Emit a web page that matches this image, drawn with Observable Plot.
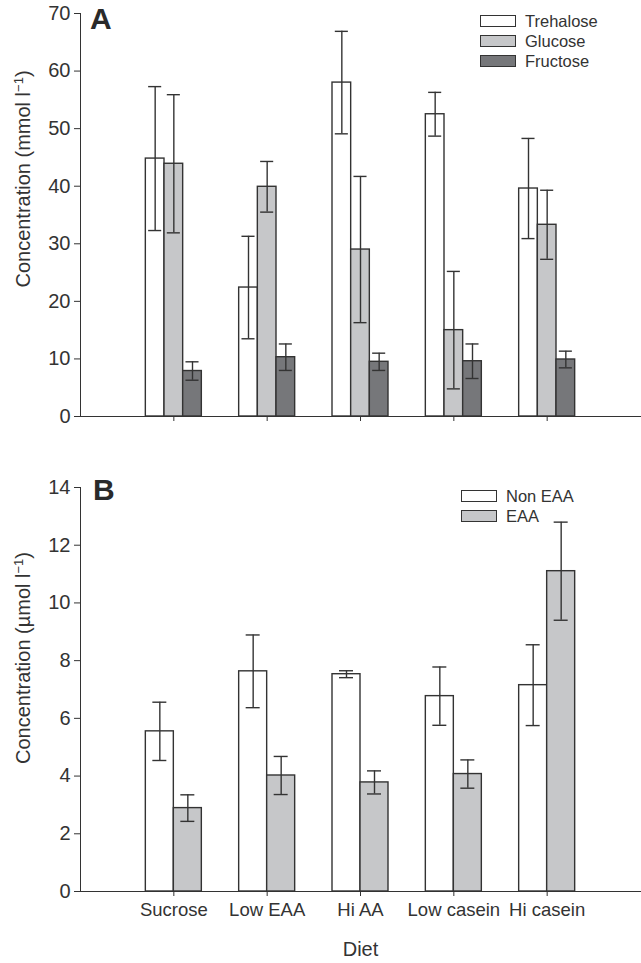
<!DOCTYPE html>
<html><head><meta charset="utf-8">
<script src="https://cdn.jsdelivr.net/npm/d3@7"></script>
<script src="https://cdn.jsdelivr.net/npm/@observablehq/plot@0.6"></script>
<style>
body{margin:0;background:#fff;}
#wrap{position:relative;width:641px;height:963px;font-family:"Liberation Sans",Arial,sans-serif;color:#333;overflow:hidden;}
.panel{position:absolute;left:0;}
.panel [aria-label="x-axis tick label"]{font-size:18.5px;}
.plab{position:absolute;font-weight:bold;font-size:30px;line-height:30px;color:#2a2a2a;}
.ylab{position:absolute;font-size:20px;line-height:20px;white-space:nowrap;transform:translate(-50%,-50%) rotate(-90deg);color:#333;}
.ylab sup{font-size:13px;vertical-align:7px;line-height:0;}
.legend{position:absolute;font-size:16.5px;color:#333;}
.legend .row{display:flex;align-items:center;height:20px;}
.legend .sw{width:36px;height:12px;box-sizing:border-box;border:1.4px solid #333;margin-right:9px;}
</style></head>
<body><div id="wrap"></div>
<script>
// ---- data ----
const diets = ["Sucrose", "Low EAA", "Hi AA", "Low casein", "Hi casein"];

const sugars = ["Trehalose", "Glucose", "Fructose"];
const trehalose    = [44.8, 22.4, 58.0, 52.5, 39.6];
const trehaloseErr = [12.5, 8.9, 8.9, 3.8, 8.7];
const glucose      = [43.9, 39.9, 29.0, 15.0, 33.3];
const glucoseErr   = [12.0, 4.4, 12.7, 10.2, 6.0];
const fructose     = [7.9, 10.3, 9.5, 9.6, 9.9];
const fructoseErr  = [1.6, 2.3, 1.5, 3.0, 1.45];

const aminoGroups = ["Non EAA", "EAA"];
const nonEAA    = [5.55, 7.63, 7.53, 6.77, 7.15];
const nonEAAErr = [1.01, 1.26, 0.12, 1.01, 1.40];
const eaa       = [2.89, 4.02, 3.78, 4.07, 11.1];
const eaaErr    = [0.46, 0.66, 0.40, 0.49, 1.70];

const yTicksA = [0, 10, 20, 30, 40, 50, 60, 70];
const yTicksB = [0, 2, 4, 6, 8, 10, 12, 14];

// ---- build tables ----
function buildRows(seriesNames, values, errs, barW) {
  const n = seriesNames.length;
  const rows = [];
  diets.forEach((d, j) => {
    seriesNames.forEach((s, k) => {
      const x1 = (j + 1) + (k - n / 2) * barW;
      rows.push({diet: d, series: s, x1, x2: x1 + barW, xc: x1 + barW / 2,
                 value: values[k][j], err: errs[k][j]});
    });
  });
  return rows;
}
const rowsA = buildRows(sugars, [trehalose, glucose, fructose], [trehaloseErr, glucoseErr, fructoseErr], 0.2);
const rowsB = buildRows(aminoGroups, [nonEAA, eaa], [nonEAAErr, eaaErr], 0.3);

const INK = "#333";
function panel({rows, seriesNames, colors, yTicks, height, marginTop, marginBottom, showX, cap}) {
  return Plot.plot({
    width: 641, height, marginLeft: 80, marginRight: 1, marginTop, marginBottom,
    style: {fontFamily: "'Liberation Sans', Arial, sans-serif", fontSize: "20px", color: INK, background: "transparent", overflow: "visible"},
    x: {domain: [0, 6], ticks: [1, 2, 3, 4, 5], tickFormat: showX ? (i => diets[i - 1]) : (() => ""),
        tickSize: 5, tickPadding: 6, line: true, label: showX ? "Diet" : null, labelAnchor: "center", labelOffset: 64, labelArrow: "none"},
    y: {domain: [yTicks[0], yTicks[yTicks.length - 1]], ticks: yTicks, tickSize: 6, tickPadding: 4, line: true, label: null},
    color: {domain: seriesNames, range: colors},
    marks: [
      Plot.rect(rows, {x1: "x1", x2: "x2", y1: 0, y2: "value", fill: "series", stroke: INK, strokeWidth: 1.4}),
      Plot.ruleX(rows, {x: "xc", y1: d => d.value - d.err, y2: d => d.value + d.err, stroke: INK, strokeWidth: 1.4}),
      Plot.ruleY(rows, {y: d => d.value + d.err, x1: d => d.xc - cap, x2: d => d.xc + cap, stroke: INK, strokeWidth: 1.4}),
      Plot.ruleY(rows, {y: d => d.value - d.err, x1: d => d.xc - cap, x2: d => d.xc + cap, stroke: INK, strokeWidth: 1.4})
    ]
  });
}

const wrap = document.getElementById("wrap");

const pA = panel({rows: rowsA, seriesNames: sugars, colors: ["#ffffff", "#c6c7c9", "#76777a"], yTicks: yTicksA,
  height: 440, marginTop: 13, marginBottom: 24, showX: false, cap: 0.07});
pA.classList.add("panel"); pA.style.top = "0px";
wrap.appendChild(pA);

const pB = panel({rows: rowsB, seriesNames: aminoGroups, colors: ["#ffffff", "#c6c7c9"], yTicks: yTicksB,
  height: 523, marginTop: 47, marginBottom: 72, showX: true, cap: 0.075});
pB.classList.add("panel"); pB.style.top = "440px";
wrap.appendChild(pB);

// panel letters
function addDiv(cls, html, left, top) {
  const el = document.createElement("div");
  el.className = cls; el.innerHTML = html;
  el.style.left = left + "px"; el.style.top = top + "px";
  wrap.appendChild(el); return el;
}
addDiv("plab", "A", 90, 4);
addDiv("plab", "B", 93, 475);

// y-axis titles
addDiv("ylab", "Concentration (mmol l<sup>−1</sup>)", 23, 179);
addDiv("ylab", "Concentration (µmol l<sup>−1</sup>)", 23, 658);

// legends
function legend(names, colors, left, top) {
  const lg = document.createElement("div");
  lg.className = "legend"; lg.style.left = left + "px"; lg.style.top = top + "px";
  names.forEach((n, i) => {
    const r = document.createElement("div"); r.className = "row";
    const sw = document.createElement("div"); sw.className = "sw"; sw.style.background = colors[i];
    const t = document.createElement("span"); t.textContent = n;
    r.appendChild(sw); r.appendChild(t); lg.appendChild(r);
  });
  wrap.appendChild(lg);
}
legend(sugars, ["#ffffff", "#c6c7c9", "#76777a"], 480, 11);
legend(aminoGroups, ["#ffffff", "#c6c7c9"], 461, 486);
</script>
</body></html>
